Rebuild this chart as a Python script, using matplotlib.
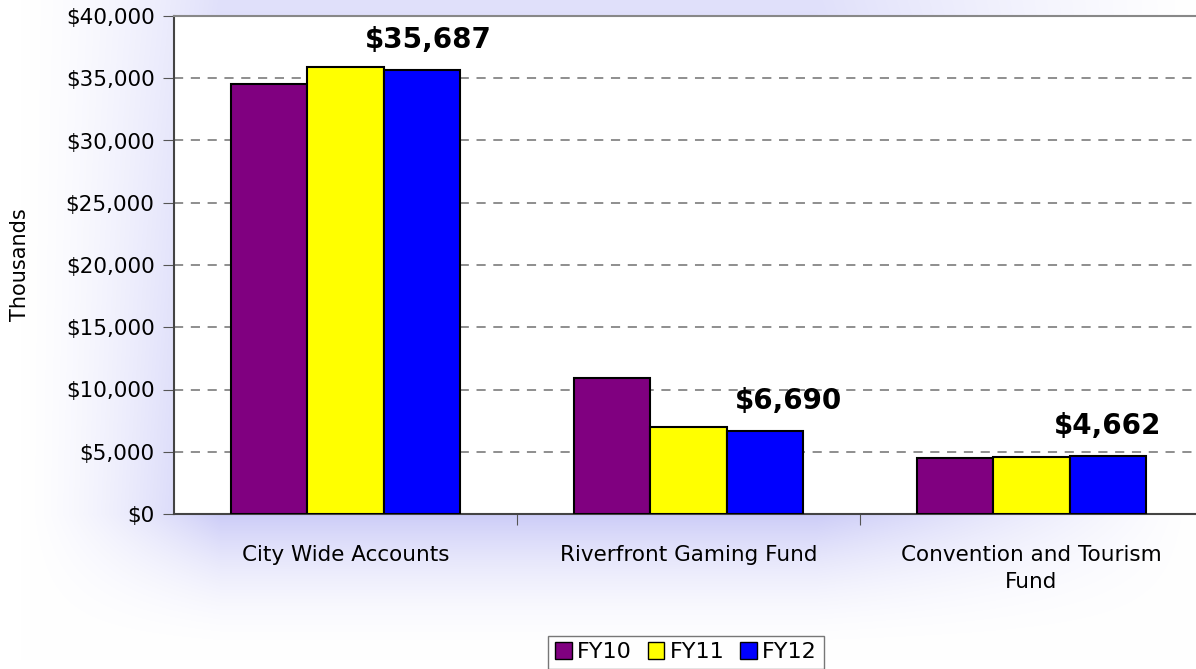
import matplotlib.pyplot as plt
import numpy as np
from matplotlib.patches import Patch

categories = ["City Wide Accounts", "Riverfront Gaming Fund", "Convention and Tourism\nFund"]
years = ["FY10", "FY11", "FY12"]
fy10 = [34540, 10920, 4500]
fy11 = [35900, 6990, 4580]
fy12 = [35687, 6690, 4662]
colors = ["#800080", "#ffff00", "#0000ff"]

W, H = 1196, 669
fig = plt.figure(figsize=(W / 100, H / 100), dpi=100)

# soft lavender glow behind the plot area
bg = fig.add_axes([0, 0, 1, 1])
xx = np.arange(W)
yy = np.arange(H)
sx = np.clip((xx - 20) / 200, 0, 1) ** 1.5 * np.clip((1196 - xx) / 380, 0, 1) ** 1.2
sy = np.clip((660 - yy) / 146, 0, 1) ** 2 * (0.6 + 0.4 * np.clip(yy / 514, 0, 1))
sy[yy > 514] = np.clip((660 - yy[yy > 514]) / 146, 0, 1) ** 2
glow = np.outer(sy, sx)
base = np.array([1.0, 1.0, 1.0])
tint = np.array([0.80, 0.80, 0.97])
img = base[None, None, :] - glow[:, :, None] * (base - tint)[None, None, :]
bg.imshow(img, extent=[0, W, H, 0], aspect="auto")
bg.set_axis_off()

# plot area: left 174, top 16, bottom 514, right beyond edge (1203)
ax = fig.add_axes([174 / W, (H - 514) / H, 1029 / W, 498 / H])
ax.set_facecolor("white")

x = np.arange(len(categories))
bw = 0.222
for i, (vals, c) in enumerate(zip([fy10, fy11, fy12], colors)):
    ax.bar(x + (i - 1) * bw, vals, bw, color=c, edgecolor="black", linewidth=1.5, zorder=3)

labels = ["$35,687", "$6,690", "$4,662"]
offs = [0.02, 0.07, 0.0]
for j in range(3):
    ax.text(x[j] + bw + offs[j], fy12[j] + 1300, labels[j], ha="center", va="bottom",
            fontsize=20, fontweight="bold", zorder=4)

ax.set_xlim(-0.5, 2.5)
ax.set_ylim(0, 40000)
yt = np.arange(0, 40001, 5000)
ax.set_yticks(yt)
ax.set_yticklabels(["${:,}".format(v) for v in yt], fontsize=15.5)
ax.yaxis.grid(True, linestyle=(0, (6, 5)), color="#707070", linewidth=1.1, zorder=0)
ax.set_xticks([0.5, 1.5], minor=False)
ax.set_xticklabels([])
ax.set_xticks(x, minor=True)
ax.set_xticklabels(categories, minor=True, fontsize=15.5, linespacing=1.45)
ax.tick_params(axis="x", which="minor", length=0, pad=22)
ax.tick_params(axis="x", which="major", length=8, direction="out", color="#555555")
ax.tick_params(axis="y", length=8, direction="out", color="#555555", pad=6)
for s in ["left", "bottom"]:
    ax.spines[s].set_color("#444444")
    ax.spines[s].set_linewidth(1.5)
ax.spines["top"].set_color("#888888")
ax.spines["top"].set_linewidth(1.5)
ax.spines["right"].set_visible(False)

fig.text(20 / W, 1 - 265 / H, "Thousands", rotation=90, ha="center", va="center", fontsize=15)

handles = [Patch(facecolor=c, edgecolor="black", linewidth=1) for c in colors]
leg = fig.legend(handles, years, loc="lower center", bbox_to_anchor=(686 / W, 0.0), ncol=3,
                 fontsize=16, frameon=True, fancybox=False, edgecolor="#555555",
                 handlelength=0.75, handleheight=0.75, handletextpad=0.25, columnspacing=0.7,
                 borderpad=0.3, borderaxespad=0)
leg.get_frame().set_linewidth(1)

fig.savefig("out.png", dpi=100)
